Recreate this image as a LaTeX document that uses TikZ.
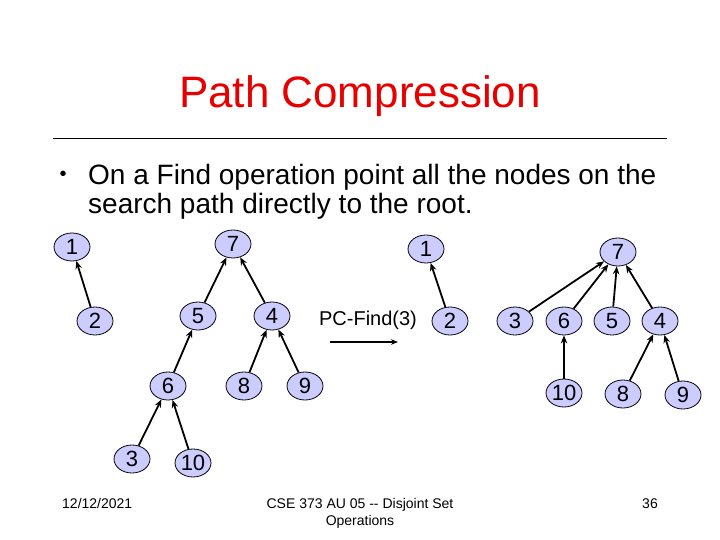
\documentclass[tikz,border=0pt]{standalone}
\usepackage{fontspec}
\setmainfont{Liberation Sans}
\usetikzlibrary{shapes.geometric,arrows.meta}
\definecolor{nodefill}{RGB}{204,204,255}
\definecolor{titlered}{RGB}{230,0,0}
\tikzset{
  uf/.style={ellipse,draw=black,line width=0.8pt,fill=nodefill,minimum width=36pt,minimum height=28pt,inner sep=0pt,font=\fontsize{22}{22}\selectfont},
  ptr/.style={line width=1.8pt,-{Stealth[length=8pt,width=6.5pt]}},
  body/.style={font=\fontsize{28}{30}\selectfont,inner sep=0pt,anchor=base west},
  foot/.style={font=\fontsize{14}{14}\selectfont,inner sep=0pt,anchor=base}
}
\begin{document}
\begin{tikzpicture}[x=1pt,y=-1pt]
\useasboundingbox (0,0) rectangle (720,540);
% title
\node[font=\fontsize{44}{44}\selectfont,text=titlered,anchor=base,inner sep=0pt] (title) at (360,108) {Path Compression};
\coordinate (rl) at (53,138);
\coordinate (rr) at (667,138);
\draw[line width=0.8pt] (rl) -- (rr);
% bullet
\node[font=\fontsize{20}{20}\selectfont,inner sep=0pt,anchor=base] (bul) at (63,181) {•};
\node[body] (l1) at (88,185) {On a Find operation point all the nodes on the};
\node[body] (l2) at (88,214) {search path directly to the root.};
% left forest
\node[uf] (a1) at (72,247) {1};
\node[uf] (a2) at (95,321) {2};
\node[uf] (a7) at (233,244) {7};
\node[uf] (a5) at (198,316) {5};
\node[uf] (a4) at (272,316) {4};
\node[uf] (a6) at (168,386) {6};
\node[uf] (a8) at (244,386) {8};
\node[uf] (a9) at (305,386) {9};
\node[uf] (a3) at (132,459) {3};
\node[uf] (a10) at (193,463) {10};
\draw[ptr] (a2) -- (a1);
\draw[ptr] (a5) -- (a7);
\draw[ptr] (a4) -- (a7);
\draw[ptr] (a6) -- (a5);
\draw[ptr] (a8) -- (a4);
\draw[ptr] (a9) -- (a4);
\draw[ptr] (a3) -- (a6);
\draw[ptr] (a10) -- (a6);
% operation
\node[font=\fontsize{20}{20}\selectfont,inner sep=0pt] (pc) at (368,320) {PC-Find(3)};
\coordinate (ps) at (330,342);
\coordinate (pe) at (398,342);
\draw[line width=1.4pt,-{Stealth[length=7pt,width=5.5pt]}] (ps) -- (pe);
% right forest
\node[uf] (b1) at (426,249) {1};
\node[uf] (b2) at (450,321) {2};
\node[uf] (b7) at (618,252) {7};
\node[uf] (b3) at (515,321) {3};
\node[uf] (b6) at (564,321) {6};
\node[uf] (b5) at (612,321) {5};
\node[uf] (b4) at (660,321) {4};
\node[uf] (b10) at (564,393) {10};
\node[uf] (b8) at (623,394) {8};
\node[uf] (b9) at (683,395) {9};
\draw[ptr] (b2) -- (b1);
\draw[ptr] (b3) -- (b7);
\draw[ptr] (b6) -- (b7);
\draw[ptr] (b5) -- (b7);
\draw[ptr] (b4) -- (b7);
\draw[ptr] (b10) -- (b6);
\draw[ptr] (b8) -- (b4);
\draw[ptr] (b9) -- (b4);
% footer
\node[foot,anchor=base west] (date) at (62,508) {12/12/2021};
\node[foot] (f1) at (360,508) {CSE 373 AU 05 -{}- Disjoint Set};
\node[foot] (f2) at (360,525) {Operations};
\node[foot] (pg) at (650,508) {36};
\end{tikzpicture}
\end{document}
